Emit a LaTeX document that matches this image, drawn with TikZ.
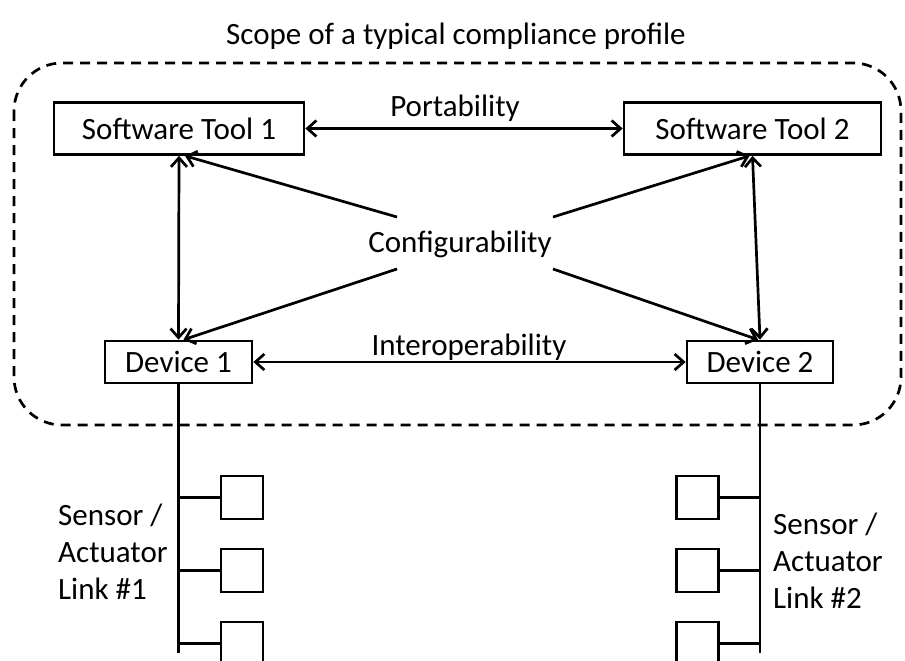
\documentclass[tikz,border=0pt]{standalone}
\usepackage{fontspec}
\setmainfont{Carlito}
\usetikzlibrary{arrows.meta,calc}

\tikzset{
  txt/.style={font=\fontsize{31}{37}\selectfont, inner sep=0pt},
  unit/.style={draw, line width=2.7pt, inner sep=0pt, font=\fontsize{31}{36}\selectfont},
  slot/.style={draw, line width=2.7pt, minimum width=42pt, minimum height=43pt, inner sep=0pt},
  link/.style={line width=2.7pt},
  dbl/.style={line width=2.7pt, {Straight Barb[length=9pt,width=16pt]}-{Straight Barb[length=9pt,width=16pt]}},
  one/.style={line width=2.7pt, -{Straight Barb[length=9pt,width=16pt]}},
  scope/.style={line width=2.7pt, dash pattern=on 10pt off 7pt, rounded corners=48pt}
}

\begin{document}
\begin{tikzpicture}[x=1pt,y=-1pt]
\clip (0,0) rectangle (905,661);
\fill[white] (0,0) rectangle (905,661);

% title and profile boundary
\node[txt] (title) at (456,36) {Scope of a typical compliance profile};
\draw[scope] (14,63) rectangle (901,425);

% tools and devices
\node[unit, minimum width=250pt, minimum height=52pt] (st1) at (179,128.5) {Software Tool 1};
\node[unit, minimum width=257pt, minimum height=52pt] (st2) at (752.5,128.5) {Software Tool 2};
\node[unit, minimum width=147pt, minimum height=42pt] (dev1) at (178.5,362) {Device 1};
\node[unit, minimum width=146pt, minimum height=42pt] (dev2) at (760,362) {Device 2};

% relations
\node[txt] (port) at (455,108) {Portability};
\node[txt] (intop) at (469,347) {Interoperability};
\node[txt] (cfg) at (460,244) {Configurability};

\draw[dbl] (st1.east) -- (st2.west);
\draw[dbl] (dev1.east) -- (dev2.west);
\draw[dbl] (st1.south) -- (dev1.north);
\draw[dbl] (st2.south) -- (dev2.north);

\coordinate (cfgul) at (397,217);
\coordinate (cfgll) at (397,269);
\coordinate (cfgur) at (553,217);
\coordinate (cfglr) at (553,269);
\draw[one] (cfgul) -- ($(st1.south)+(6,0)$);
\draw[one] (cfgll) -- ($(dev1.north)+(5,0)$);
\draw[one] (cfgur) -- ($(st2.south)+(-3,0)$);
\draw[one] (cfglr) -- ($(dev2.north)+(-2,0)$);

% sensor / actuator links
\coordinate (bus1) at (178.5,653);
\coordinate (bus2) at (760,653);
\draw[link] (dev1.south) -- (bus1);
\draw[link] (dev2.south) -- (bus2);

\node[slot] (s11) at (242,497.5) {};
\node[slot] (s12) at (242,570.5) {};
\node[slot] (s13) at (242,643.5) {};
\node[slot] (s21) at (697.5,497.5) {};
\node[slot] (s22) at (697.5,570.5) {};
\node[slot] (s23) at (697.5,643.5) {};

\foreach \s in {s11,s12,s13}
  \draw[link] (\s.west) -- (\s.west -| dev1.south);
\foreach \s in {s21,s22,s23}
  \draw[link] (\s.east) -- (\s.east -| dev2.south);

\node[txt, align=left, anchor=west] (lbl1) at (58,552) {Sensor /\\Actuator\\Link \#1};
\node[txt, align=left, anchor=west] (lbl2) at (773,561) {Sensor /\\Actuator\\Link \#2};
\end{tikzpicture}
\end{document}
